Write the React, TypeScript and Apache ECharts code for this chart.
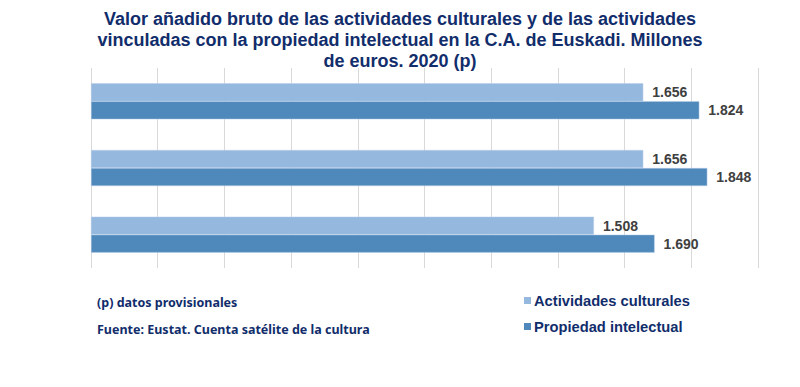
import React, { useEffect, useRef } from "react";
import * as echarts from "echarts";

const categories = ["Grupo 1", "Grupo 2", "Grupo 3"];
const seriesNames = ["Actividades culturales", "Propiedad intelectual"];
const culturales = [1656, 1656, 1508];
const propiedad = [1824, 1848, 1690];
const titleLines = [
  "Valor añadido bruto de las actividades culturales y de las actividades",
  "vinculadas con la propiedad intelectual en la C.A. de Euskadi. Millones",
  "de euros. 2020 (p)",
];
const notes = ["(p) datos provisionales", "Fuente: Eustat. Cuenta satélite de la cultura"];

const navy = "#112D6B";
const fmt = (v: number) => {
  const s = String(Math.round(v));
  return s.replace(/\B(?=(\d{3})+(?!\d))/g, ".");
};

export default function App() {
  const ref = useRef<HTMLDivElement>(null);
  useEffect(() => {
    if (!ref.current) return;
    const chart = echarts.init(ref.current, null, { renderer: "svg" });
    const labelStyle = {
      show: true,
      position: "right" as const,
      distance: 9,
      color: "#404040",
      fontWeight: "bold" as const,
      fontSize: 14,
      fontFamily: "Liberation Sans, Arial, sans-serif",
      formatter: (p: any) => fmt(p.value),
    };
    chart.setOption({
      animation: false,
      backgroundColor: "#ffffff",
      title: {
        text: titleLines.join("\n"),
        left: "center",
        top: 3,
        textStyle: {
          color: navy,
          fontWeight: "bold",
          fontSize: 18,
          lineHeight: 21,
          fontFamily: "Liberation Sans, Arial, sans-serif",
        },
      },
      grid: { left: 91, right: 42, top: 68, bottom: 119, containLabel: false },
      xAxis: {
        type: "value",
        min: 0,
        max: 2000,
        interval: 200,
        axisLabel: { show: false },
        axisLine: { show: false },
        axisTick: { show: false },
        splitLine: { show: true, lineStyle: { color: "#d9d9d9", width: 1 } },
      },
      yAxis: {
        type: "category",
        data: categories,
        inverse: true,
        axisLabel: { show: false },
        axisLine: { show: false },
        axisTick: { show: false },
      },
      legend: {
        orient: "vertical",
        left: 519,
        top: 288,
        itemWidth: 7,
        itemHeight: 7,
        itemGap: 11,
        icon: "rect",
        itemStyle: { borderWidth: 0 },
        data: seriesNames,
        textStyle: {
          color: navy,
          fontWeight: "bold",
          fontSize: 14.7,
          padding: [0, 0, 0, -2],
          fontFamily: "Liberation Sans, Arial, sans-serif",
        },
      },
      graphic: notes.map((t, i) => ({
        type: "text",
        left: 97,
        top: 296 + i * 27,
        style: {
          text: t,
          fill: navy,
          font: "bold 12.5px 'Noto Sans', 'Open Sans', sans-serif",
        },
      })),
      series: [
        {
          name: seriesNames[0],
          type: "bar",
          data: culturales,
          barGap: "0%",
          barCategoryGap: "46%",
          itemStyle: { color: "#95B8DF", borderColor: "#b8cfe9", borderWidth: 0.5 },
          label: labelStyle,
        },
        {
          name: seriesNames[1],
          type: "bar",
          data: propiedad,
          barGap: "0%",
          barCategoryGap: "46%",
          itemStyle: { color: "#4F88BB", borderColor: "#b8cfe9", borderWidth: 0.5 },
          label: labelStyle,
        },
      ],
    });
    return () => chart.dispose();
  }, []);
  return (
    <div
      ref={ref}
      style={{ position: "absolute", left: 0, top: 0, width: 800, height: 387 }}
    />
  );
}
